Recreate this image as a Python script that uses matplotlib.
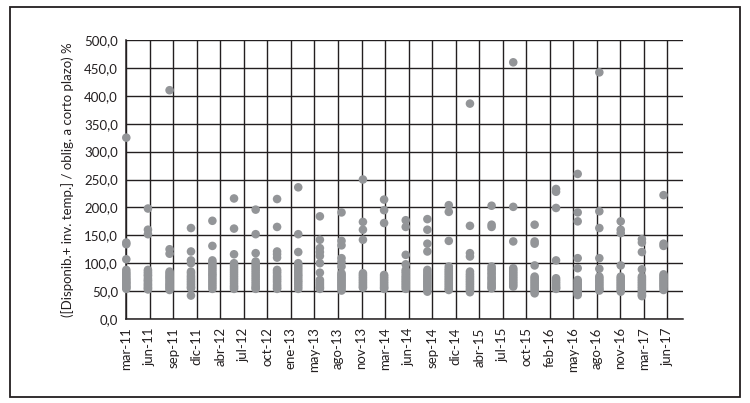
import numpy as np
import pandas as pd
import matplotlib.pyplot as plt
import matplotlib.dates as mdates
from matplotlib.patches import Rectangle

plt.rcParams['font.family'] = ['Lato', 'DejaVu Sans']

# === datos: un grupo de valores por trimestre ===
quarters = pd.date_range("2011-03-01", "2017-06-01", freq="3MS")  # 26 trimestres

values = [
    [325, 137, 134, 107, 88, 84, 81, 78, 75, 72, 70, 67, 65, 63, 60, 58, 56, 54],
    [198, 160, 152, 88, 85, 82, 79, 77, 73, 70, 68, 65, 62, 60, 57, 55, 53],
    [410, 125, 117, 85, 82, 79, 76, 74, 71, 68, 65, 62, 60, 57, 55, 52],
    [163, 121, 105, 100, 85, 82, 78, 75, 72, 69, 66, 63, 60, 57, 55, 42],
    [176, 131, 105, 101, 97, 93, 89, 85, 81, 78, 74, 70, 66, 62, 58, 54],
    [216, 162, 116, 100, 96, 92, 88, 84, 80, 76, 72, 68, 64, 60, 57, 54],
    [196, 152, 118, 103, 99, 95, 91, 87, 83, 79, 75, 71, 67, 63, 59, 56, 54],
    [215, 165, 121, 116, 110, 88, 85, 82, 78, 75, 72, 69, 66, 62, 59, 56, 54],
    [236, 152, 120, 100, 96, 92, 88, 84, 80, 77, 73, 69, 66, 62, 58, 54],
    [184, 142, 127, 120, 113, 100, 83, 70, 67, 64, 61, 58, 56, 54],
    [191, 140, 132, 109, 102, 94, 82, 79, 76, 73, 70, 67, 64, 61, 58, 55, 51],
    [250, 174, 160, 142, 82, 79, 76, 73, 70, 67, 64, 61, 58, 56],
    [214, 195, 172, 79, 76, 73, 70, 67, 64, 61, 58, 56, 54],
    [177, 165, 115, 98, 88, 85, 82, 78, 75, 72, 69, 66, 63, 60, 57, 54],
    [179, 160, 135, 121, 88, 84, 80, 77, 74, 71, 68, 65, 62, 59, 56, 52, 49],
    [204, 192, 140, 94, 90, 87, 84, 81, 78, 75, 72, 69, 66, 63, 60, 57, 54, 52],
    [386, 167, 118, 112, 85, 81, 78, 75, 72, 69, 66, 63, 60, 57, 54, 51, 48],
    [203, 169, 165, 94, 90, 87, 83, 80, 76, 73, 70, 66, 63, 60, 57, 55],
    [460, 201, 139, 91, 88, 85, 82, 79, 76, 73, 70, 67, 64, 61, 58],
    [169, 139, 135, 96, 76, 73, 70, 67, 64, 61, 58, 55, 52, 49, 46],
    [233, 228, 199, 105, 73, 70, 67, 64, 61, 58, 56, 54],
    [260, 191, 175, 109, 91, 70, 67, 64, 61, 58, 55, 52, 49, 46, 43],
    [442, 193, 163, 109, 90, 76, 73, 70, 67, 64, 61, 58, 55, 53, 51],
    [175, 160, 154, 96, 76, 73, 70, 67, 64, 61, 58, 55, 52, 49],
    [143, 137, 120, 89, 76, 73, 70, 67, 64, 61, 58, 55, 52, 49, 46, 43, 41],
    [222, 135, 131, 80, 77, 74, 71, 68, 65, 62, 59, 56, 52],
]

tick_labels = ["mar-11", "jun-11", "sep-11", "dic-11", "abr-12", "jul-12", "oct-12",
               "ene-13", "may-13", "ago-13", "nov-13", "mar-14", "jun-14", "sep-14",
               "dic-14", "abr-15", "jul-15", "oct-15", "feb-16", "may-16", "ago-16",
               "nov-16", "mar-17", "jun-17"]

ylabel = "([Disponib.+ inv. temp.] / oblig. a corto plazo) %"

# === armar puntos ===
xs = []
ys = []
for q, vals in zip(quarters, values):
    xs += [q] * len(vals)
    ys += vals

fig = plt.figure(figsize=(7.5, 4.03), dpi=100)
ax = fig.add_axes([126.3 / 750, 1 - 319 / 403, 557 / 750, 279 / 403])

# eje de fechas estilo Excel: cada 100 días
start = quarters[0]
tick_dates = [start + pd.Timedelta(days=100 * k) for k in range(len(tick_labels))]
ax.set_xticks(mdates.date2num(tick_dates))
ax.set_xticklabels(tick_labels, rotation=90, fontsize=9.5)
ax.set_xlim(mdates.date2num(start), mdates.date2num(start + pd.Timedelta(days=2368)))

ax.set_ylim(0, 500)
ax.set_yticks(np.arange(0, 501, 50))
ax.set_yticklabels([f"{v:.1f}".replace(".", ",") for v in np.arange(0, 501, 50)], fontsize=9.5)

ax.grid(True, color="#231f20", linewidth=1.0)
ax.set_axisbelow(True)
for s in ["top", "right"]:
    ax.spines[s].set_visible(False)
for s in ["left", "bottom"]:
    ax.spines[s].set_color("#231f20")
    ax.spines[s].set_linewidth(1.1)
ax.tick_params(length=0, pad=6, colors="#231f20")

ax.scatter(mdates.date2num(xs), ys, s=38, color="#939598", edgecolors="none", zorder=3, clip_on=False)

ax.set_ylabel(ylabel, fontsize=9.5, color="#231f20", labelpad=7)

# marco exterior
fig.patches.append(Rectangle((10 / 750, 1 - 397 / 403), 730 / 750, 390 / 403,
                             transform=fig.transFigure, fill=False,
                             edgecolor="#231f20", linewidth=1.3))

fig.savefig("out.png", dpi=100)
